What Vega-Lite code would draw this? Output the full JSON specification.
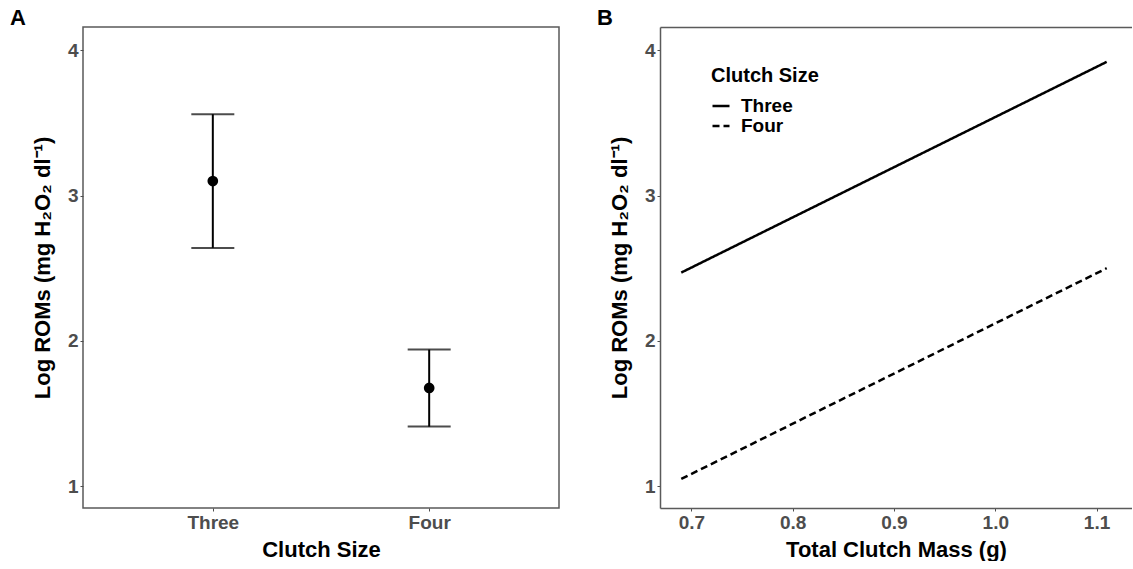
{
  "$schema": "https://vega.github.io/schema/vega-lite/v6.json",
  "padding": {"left": 9, "top": 6, "right": 0, "bottom": 0},
  "spacing": 37,
  "resolve": {"scale": {"strokeDash": "independent"}, "legend": {"strokeDash": "independent"}},
  "config": {
    "font": "Liberation Sans",
    "axis": {
      "grid": false,
      "domain": false,
      "labelFont": "Liberation Sans",
      "labelFontSize": 19,
      "labelFontWeight": "bold",
      "labelColor": "#4d4d4d",
      "labelPadding": 2,
      "tickColor": "#4d4d4d",
      "tickSize": 3,
      "tickWidth": 1,
      "titleFont": "Liberation Sans",
      "titleFontSize": 22,
      "titleFontWeight": "bold",
      "titleColor": "#000000",
      "domainColor": "#5a5a5a",
      "domainWidth": 1.5
    },
    "title": {"fontSize": 22, "fontWeight": "bold", "color": "#000000", "anchor": "start", "frame": "group"},
    "legend": {
      "titleFont": "Liberation Sans",
      "titleFontSize": 20,
      "titleFontWeight": "bold",
      "titleColor": "#000000",
      "labelFont": "Liberation Sans",
      "labelFontSize": 19,
      "labelFontWeight": "bold",
      "labelColor": "#000000"
    }
  },
  "hconcat": [
    {
      "width": 476,
      "height": 481,
      "title": {"text": "A", "dx": -73, "offset": -3},
      "view": {"stroke": "#5a5a5a", "strokeWidth": 1.5},
      "data": {
        "values": [
          {"size": "Three", "mean": 3.10, "lo": 2.64, "hi": 3.56},
          {"size": "Four", "mean": 1.676, "lo": 1.41, "hi": 1.94}
        ]
      },
      "encoding": {
        "x": {
          "field": "size",
          "type": "nominal",
          "sort": ["Three", "Four"],
          "scale": {"type": "point", "padding": 0.6},
          "axis": {"title": "Clutch Size", "labelAngle": 0, "titlePadding": 7}
        }
      },
      "layer": [
        {
          "mark": {"type": "rule", "color": "#000000", "strokeWidth": 2},
          "encoding": {
            "y": {"field": "lo", "type": "quantitative", "scale": {"domain": [0.85, 4.16], "nice": false, "zero": false}, "axis": {"values": [1, 2, 3, 4], "format": "d", "title": "Log ROMs (mg H₂O₂ dl⁻¹)", "titlePadding": 13}},
            "y2": {"field": "hi"}
          }
        },
        {
          "mark": {"type": "tick", "color": "#000000", "size": 43, "thickness": 2, "orient": "horizontal"},
          "encoding": {"y": {"field": "lo", "type": "quantitative"}}
        },
        {
          "mark": {"type": "tick", "color": "#000000", "size": 43, "thickness": 2, "orient": "horizontal"},
          "encoding": {"y": {"field": "hi", "type": "quantitative"}}
        },
        {
          "mark": {"type": "point", "filled": true, "color": "#000000", "size": 115, "opacity": 1},
          "encoding": {"y": {"field": "mean", "type": "quantitative"}}
        }
      ]
    },
    {
      "width": 472,
      "height": 481,
      "title": {"text": "B", "dx": -63, "offset": -3},
      "view": {"stroke": null},
      "data": {
        "values": [
          {"size": "Three", "mass": 0.69, "roms": 2.47},
          {"size": "Three", "mass": 1.11, "roms": 3.92},
          {"size": "Four", "mass": 0.69, "roms": 1.05},
          {"size": "Four", "mass": 1.11, "roms": 2.50}
        ]
      },
      "resolve": {"axis": {"x": "independent"}},
      "layer": [
        {
          "mark": {"type": "line", "color": "#000000", "strokeWidth": 2.5},
          "encoding": {
            "x": {"field": "mass", "type": "quantitative", "scale": {"domain": [0.669, 1.135], "nice": false, "zero": false}, "axis": {"values": [0.7, 0.8, 0.9, 1.0, 1.1], "format": ".1f", "title": "Total Clutch Mass (g)", "domain": true, "titlePadding": 7}},
            "y": {"field": "roms", "type": "quantitative", "scale": {"domain": [0.85, 4.16], "nice": false, "zero": false}, "axis": {"values": [1, 2, 3, 4], "format": "d", "title": "Log ROMs (mg H₂O₂ dl⁻¹)", "domain": true, "titlePadding": 13}},
            "strokeDash": {
              "field": "size",
              "type": "nominal",
              "scale": {"domain": ["Three", "Four"], "range": [[1, 0], [7, 4]]},
              "legend": {
                "title": "Clutch Size",
                "orient": "none",
                "legendX": 51,
                "legendY": 39,
                "symbolType": "stroke",
                "symbolSize": 289,
                "symbolStrokeWidth": 2.5,
                "symbolStrokeColor": "#000000",
                "labelOffset": 10,
                "titlePadding": 10,
                "rowPadding": 0
              }
            }
          }
        },
        {
          "mark": {"type": "line", "opacity": 0},
          "encoding": {
            "x": {"field": "mass", "type": "quantitative", "axis": {"orient": "top", "labels": false, "ticks": false, "domain": true, "title": null}},
            "y": {"field": "roms", "type": "quantitative"}
          }
        }
      ]
    }
  ]
}
